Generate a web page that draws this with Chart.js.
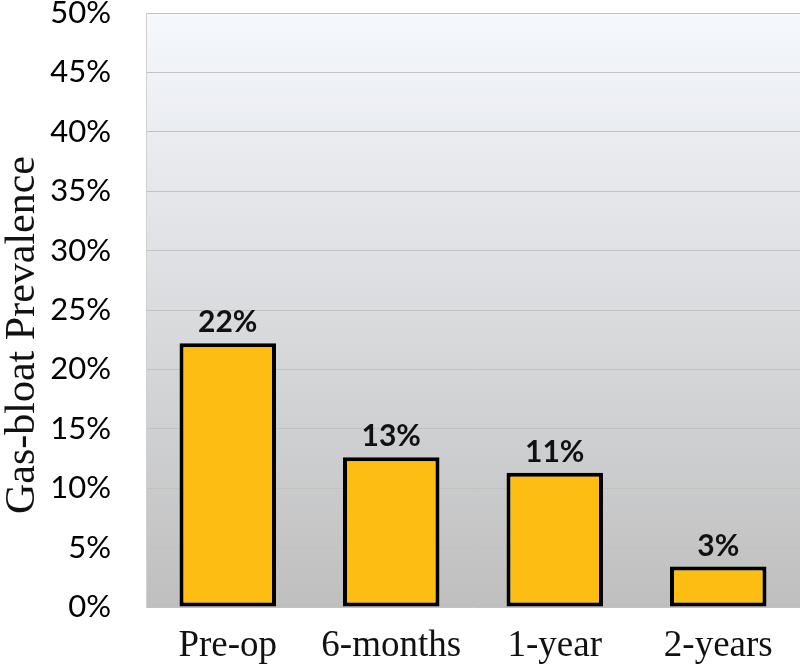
<!DOCTYPE html>
<html lang="en">
<head>
  <meta charset="UTF-8">
  <title>Gas-bloat Prevalence</title>
  <script src="https://cdn.jsdelivr.net/npm/chart.js"></script>
  <style>
    html, body { margin: 0; padding: 0; background: #fff; }
    #wrap { width: 800px; height: 672px; }
  </style>
</head>
<body>
  <div id="wrap"><canvas id="grafico"></canvas></div>

  <script>
    // data
    const categorias = ['Pre-op', '6-months', '1-year', '2-years'];
    const prevalencia = [22.2, 12.6, 11.3, 3.4];
    const yMax = 50;
    const yStep = 5;
    const tituloY = 'Gas-bloat Prevalence';

    // gradient behind the plot area
    const fundoPlugin = {
      id: 'fundo',
      beforeDraw(chart) {
        const a = chart.chartArea;
        const c = chart.ctx;
        const g = c.createLinearGradient(0, a.top, 0, a.bottom);
        g.addColorStop(0, '#f5f8fd');
        g.addColorStop(1, '#bfbfbf');
        c.save();
        c.fillStyle = g;
        c.fillRect(a.left, a.top, a.right - a.left, a.bottom - a.top);
        c.restore();
      }
    };

    // value labels above each bar + y axis title (a bit below the middle, like the original)
    const rotuloPlugin = {
      id: 'rotulos',
      afterDatasetsDraw(chart) {
        const c = chart.ctx;
        const meta = chart.getDatasetMeta(0);
        c.save();
        c.font = 'bold 30px Lato';
        c.fillStyle = '#111';
        c.textAlign = 'center';
        c.textBaseline = 'alphabetic';
        meta.data.forEach(function(bar, i) {
          c.fillText(Math.round(prevalencia[i]) + '%', bar.x, bar.y - 11);
        });
        c.restore();

        const a = chart.chartArea;
        c.save();
        c.translate(34, (a.top + a.bottom) / 2 + 25);
        c.rotate(-Math.PI / 2);
        c.font = '42px "Liberation Serif"';
        c.fillStyle = '#111';
        c.textAlign = 'center';
        c.textBaseline = 'alphabetic';
        c.fillText(tituloY, 0, 0);
        c.restore();
      }
    };

    const config = {
      type: 'bar',
      data: {
        labels: categorias,
        datasets: [{
          data: prevalencia,
          backgroundColor: '#fdbd13',
          borderColor: '#000',
          borderWidth: 4,
          borderSkipped: false,
          categoryPercentage: 1,
          barPercentage: 0.59
        }]
      },
      options: {
        responsive: true,
        maintainAspectRatio: false,
        animation: false,
        layout: { padding: { top: 13, right: 0, bottom: 0, left: 0 } },
        plugins: {
          legend: { display: false },
          tooltip: { enabled: false }
        },
        scales: {
          x: {
            grid: { display: false, drawTicks: false },
            border: { display: false },
            ticks: {
              color: '#111',
              padding: 17,
              font: { family: 'Liberation Serif', size: 37 }
            },
            afterFit(scale) { scale.height = 65; }
          },
          y: {
            min: 0,
            max: yMax,
            grid: { color: '#c2c2c2', lineWidth: 1, drawTicks: false },
            border: { display: true, color: '#d0d0d0' },
            ticks: {
              stepSize: yStep,
              color: '#000',
              padding: 35,
              font: { family: 'Lato', size: 31 },
              callback: function(v) { return v + '%'; }
            },
            afterFit(scale) {
              scale.width = 146;
              scale.paddingTop = 0;
              scale.paddingBottom = 0;
            }
          }
        }
      },
      plugins: [fundoPlugin, rotuloPlugin]
    };

    const ctx = document.getElementById('grafico').getContext('2d');
    const graficoGas = new Chart(ctx, config);
  </script>
</body>
</html>
